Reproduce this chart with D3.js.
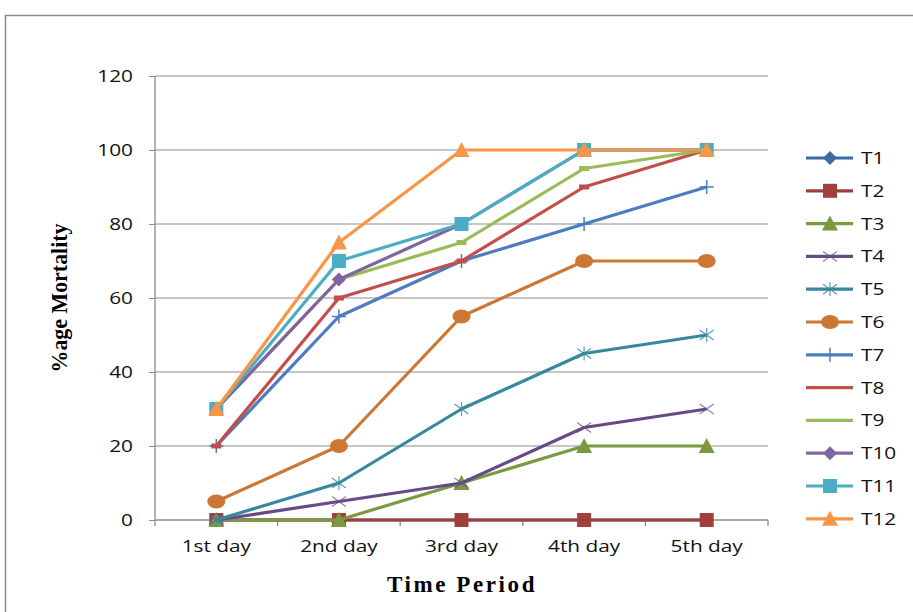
<!DOCTYPE html>
<html><head><meta charset="utf-8">
<script src="https://cdn.jsdelivr.net/npm/d3@7"></script>
<style>body{margin:0;background:#fff}svg{display:block}</style>
</head><body>
<script>
const categories = ["1st day","2nd day","3rd day","4th day","5th day"];
const seriesNames = ["T1","T2","T3","T4","T5","T6","T7","T8","T9","T10","T11","T12"];
const T1  = [0,0,0,0,0];
const T2  = [0,0,0,0,0];
const T3  = [0,0,10,20,20];
const T4  = [0,5,10,25,30];
const T5  = [0,10,30,45,50];
const T6  = [5,20,55,70,70];
const T7  = [20,55,70,80,90];
const T8  = [20,60,70,90,100];
const T9  = [30,65,75,95,100];
const T10 = [30,65,80,100,100];
const T11 = [30,70,80,100,100];
const T12 = [30,75,100,100,100];
const yTicks = [0,20,40,60,80,100,120];
const colors = ["#3D6BA3","#A03F3C","#7B9A3F","#664B86","#35899F","#CD7734","#4B7DC0","#C24E4C","#9BBB59","#8064A2","#4BACC6","#F79646"];
const markers = ["diamond","square","triangle","x","asterisk","circle","plus","dash","dash","diamond","square","triangle"];
const allValues = [T1,T2,T3,T4,T5,T6,T7,T8,T9,T10,T11,T12];

const W=913,H=612;
const FONT="Open Sans, Liberation Sans, Arial";
const STRETCH=1.3;
function stretch(sel){
  sel.each(function(){
    const w=this.getComputedTextLength();
    d3.select(this).attr("textLength",w*STRETCH).attr("lengthAdjust","spacingAndGlyphs");
  });
}
const svg=d3.select("body").append("svg").attr("width",W).attr("height",H);
svg.append("rect").attr("x",5.5).attr("y",15.5).attr("width",W).attr("height",H).attr("fill","#fff").attr("stroke","#8c8c8c").attr("stroke-width",1.5);

const L=155,R=768,T=76,B=520;
const x=d3.scaleBand().domain(categories).range([L,R]);
const y=d3.scaleLinear().domain([0,120]).range([B,T]);

// gridlines
svg.append("g").selectAll("line").data(yTicks.filter(d=>d>0)).join("line")
  .attr("x1",L).attr("x2",R).attr("y1",d=>y(d)).attr("y2",d=>y(d))
  .attr("stroke","#b3b3b3").attr("stroke-width",1.3);

// y axis
const ya=svg.append("g").attr("transform",`translate(${L},0)`).call(d3.axisLeft(y).tickValues(yTicks).tickSize(6).tickPadding(16));
ya.select(".domain").attr("stroke","#8c8c8c").attr("stroke-width",1.3).attr("d",`M0,${T}V${B}`);
ya.selectAll(".tick line").attr("stroke","#8c8c8c");
ya.selectAll("text").attr("font-family",FONT).attr("font-size",16).attr("fill","#111").attr("dy","0.35em").call(stretch);

// x axis
const xa=svg.append("g").attr("transform",`translate(0,${B})`).call(d3.axisBottom(x).tickSize(0).tickPadding(21));
xa.select(".domain").attr("stroke","#8c8c8c").attr("stroke-width",1.3).attr("d",`M${L},0H${R}`);
xa.selectAll("text").attr("font-family",FONT).attr("font-size",16).attr("fill","#111").call(stretch);
const bounds=categories.map(c=>x(c)).concat([R]);
svg.append("g").selectAll("line").data(bounds).join("line")
  .attr("x1",d=>d).attr("x2",d=>d).attr("y1",B).attr("y2",B+6).attr("stroke","#8c8c8c").attr("stroke-width",1.3);

// titles
svg.append("text").attr("x",462).attr("y",592).attr("text-anchor","middle")
  .attr("font-family","Liberation Serif, Times New Roman").attr("font-weight","bold").attr("font-size",23)
  .attr("letter-spacing",2.6).text("Time Period");
svg.append("text").attr("transform","translate(67,298) rotate(-90)").attr("text-anchor","middle")
  .attr("font-family","Liberation Serif, Times New Roman").attr("font-weight","bold").attr("font-size",23)
  .attr("textLength",149).attr("lengthAdjust","spacingAndGlyphs")
  .text("%age Mortality");

function drawMarker(g,type,color,cx,cy){
  const s=7;
  if(type==="diamond"){
    g.append("path").attr("d",`M${cx},${cy-s}L${cx+s},${cy}L${cx},${cy+s}L${cx-s},${cy}Z`).attr("fill",color);
  } else if(type==="square"){
    g.append("rect").attr("x",cx-s).attr("y",cy-s).attr("width",2*s).attr("height",2*s).attr("fill",color);
  } else if(type==="triangle"){
    g.append("path").attr("d",`M${cx},${cy-s-1}L${cx+s+1},${cy+s}L${cx-s-1},${cy+s}Z`).attr("fill",color);
  } else if(type==="circle"){
    g.append("ellipse").attr("cx",cx).attr("cy",cy).attr("rx",9).attr("ry",7).attr("fill",color);
  } else if(type==="x"){
    g.append("path").attr("d",`M${cx-s},${cy-s+2}L${cx+s},${cy+s-2}M${cx-s},${cy+s-2}L${cx+s},${cy-s+2}`).attr("stroke",color).attr("stroke-width",1.2).attr("opacity",0.7);
  } else if(type==="asterisk"){
    g.append("path").attr("d",`M${cx-s},${cy-s+2}L${cx+s},${cy+s-2}M${cx-s},${cy+s-2}L${cx+s},${cy-s+2}M${cx},${cy-s}L${cx},${cy+s}`).attr("stroke",color).attr("stroke-width",1.2).attr("opacity",0.8);
  } else if(type==="plus"){
    g.append("path").attr("d",`M${cx-s},${cy}L${cx+s},${cy}M${cx},${cy-s}L${cx},${cy+s}`).attr("stroke",color).attr("stroke-width",1.5);
  } else if(type==="dash"){
    g.append("rect").attr("x",cx-5).attr("y",cy-2.5).attr("width",10).attr("height",5).attr("fill",color);
  }
}

const line=d3.line().x((d,i)=>x(categories[i])+x.bandwidth()/2).y(d=>y(d));
const plot=svg.append("g");
allValues.forEach((vals,k)=>{
  const g=plot.append("g");
  g.append("path").datum(vals).attr("d",line).attr("fill","none").attr("stroke",colors[k]).attr("stroke-width",3.2).attr("stroke-linejoin","round");
  vals.forEach((v,i)=>drawMarker(g,markers[k],colors[k],x(categories[i])+x.bandwidth()/2,y(v)));
});

// legend
const lg=svg.append("g");
seriesNames.forEach((n,k)=>{
  const ly=158+k*32.8;
  const g=lg.append("g");
  g.append("line").attr("x1",806).attr("x2",853).attr("y1",ly).attr("y2",ly).attr("stroke",colors[k]).attr("stroke-width",3.2);
  if(markers[k]!=="dash") drawMarker(g,markers[k],colors[k],830,ly);
  g.append("text").attr("x",861).attr("y",ly+6).attr("font-family",FONT).attr("font-size",16).attr("fill","#111").text(n).call(stretch);
});
</script>
</body></html>
